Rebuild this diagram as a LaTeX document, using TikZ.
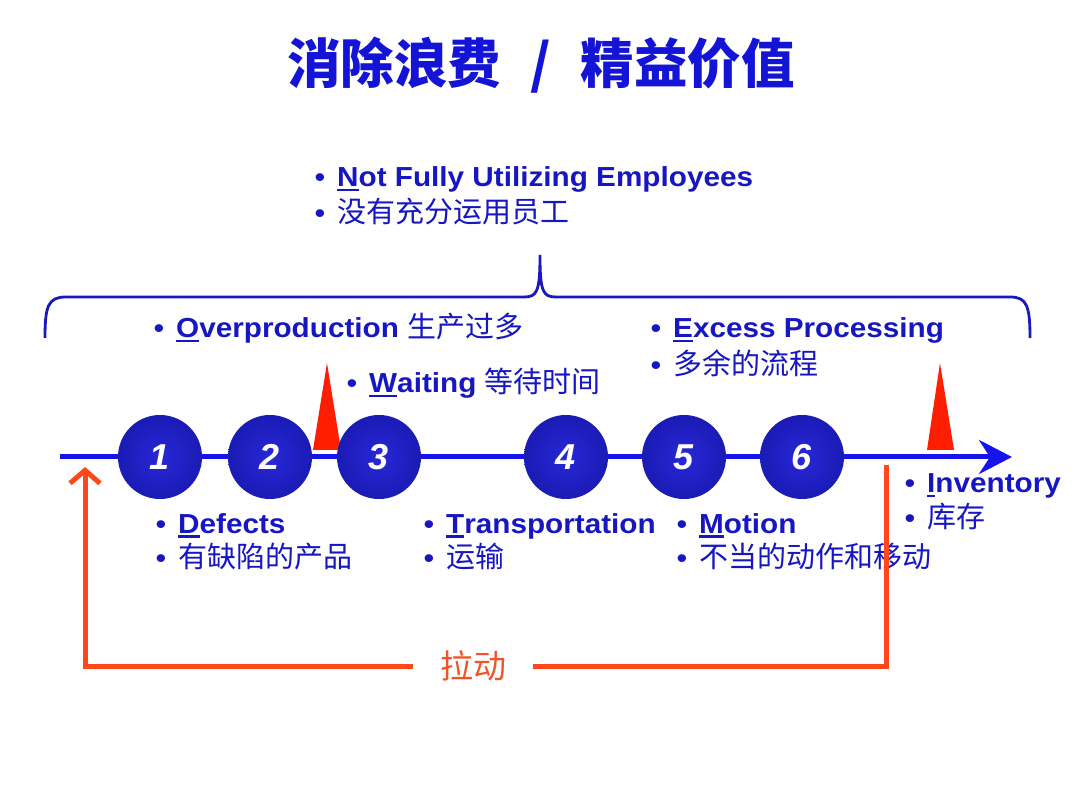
\documentclass[tikz,border=0pt]{standalone}
\usepackage{fontspec}
\setmainfont{Liberation Sans}
\newfontfamily\engb[FakeStretch=1.08]{Liberation Sans}
\newfontfamily\cjk{Noto Sans CJK SC}
\usetikzlibrary{arrows.meta,shapes.geometric}
\definecolor{txtblue}{RGB}{22,22,195}
\definecolor{ttlblue}{RGB}{20,20,215}
\definecolor{lineblue}{RGB}{20,20,235}
\definecolor{braceblue}{RGB}{25,25,190}
\definecolor{trired}{RGB}{255,30,0}
\definecolor{pullred}{RGB}{255,72,25}
\definecolor{pulltxt}{RGB}{240,85,40}
\definecolor{ballin}{RGB}{40,40,215}
\definecolor{ballmid}{RGB}{26,26,180}
\definecolor{ballrim}{RGB}{10,10,125}
\definecolor{ballout}{RGB}{4,4,95}
\pgfdeclareradialshading{myball}{\pgfpoint{0bp}{0bp}}{color(0bp)=(ballin); color(26bp)=(ballmid); color(43bp)=(ballrim); color(50bp)=(ballout)}
\newcommand\bul{\makebox[0pt][r]{{\engb\bfseries\fontsize{27}{28}\selectfont\textbullet}\hspace{12pt}}}
\newcommand\ulx[1]{{\setbox0\hbox{#1}\rlap{\rule[-4.5pt]{\wd0}{2.2pt}}\box0}}
\tikzset{
  lbl/.style={anchor=base west, inner sep=0pt, text=txtblue},
  en/.style={lbl, font=\engb\bfseries\fontsize{27.5}{30}\selectfont},
  cn/.style={lbl, font=\cjk\fontsize{29}{32}\selectfont},
  ball/.style={circle, minimum size=84pt, inner sep=0pt, shading=myball, text=white,
    font=\bfseries\itshape\fontsize{36}{38}\selectfont},
  tri/.style={fill=trired, draw=none},
  pull/.style={draw=pullred, line width=5pt},
}
\begin{document}
\begin{tikzpicture}[x=1pt,y=-1pt]
\useasboundingbox (0,0) rectangle (1080,810);
\fill[white] (0,0) rectangle (1080,810);
% title
\node[inner sep=0pt, text=ttlblue, font=\cjk\bfseries\fontsize{53.5}{56}\selectfont] (title) at (541,65) {消除浪费\hspace{0.55em}/\hspace{0.55em}精益价值};
% top texts
\node[en] (nf) at (337,187) {\bul\ulx{N}ot Fully Utilizing Employees};
\node[cn] (nfc) at (337,223) {\bul 没有充分运用员工};
% brace
\draw[braceblue, line width=2.8pt] (45,338) .. controls (45,306) and (48,297) .. (66,297) -- (524,297)
  .. controls (537,297) and (540,292) .. (540,255)
  .. controls (540,292) and (543,297) .. (556,297) -- (1010,297)
  .. controls (1027,297) and (1030,306) .. (1030,338);
\node[en] (op) at (176,338) {\bul\ulx{O}verproduction {\cjk\mdseries\fontsize{29}{32}\selectfont 生产过多}};
\node[en] (ep) at (673,338) {\bul\ulx{E}xcess Processing};
\node[cn] (epc) at (673,375) {\bul 多余的流程};
\node[en] (wt) at (369,393) {\bul\ulx{W}aiting {\cjk\mdseries\fontsize{29}{32}\selectfont 等待时间}};
% main line
\coordinate (L0) at (60,457);
\coordinate (L1) at (1012,457);
\draw[lineblue, line width=5pt, -{Stealth[length=33pt,width=34pt,inset=11pt]}] (L0) -- (L1);
% triangles
\fill[tri] (313,450) -- (327,363) -- (341,450) -- cycle;
\fill[tri] (927,450) -- (940,363) -- (954,450) -- cycle;
% balls
\node[ball] (c1) at (160,457) {1};
\node[ball] (c2) at (270,457) {2};
\node[ball] (c3) at (379,457) {3};
\node[ball] (c4) at (566,457) {4};
\node[ball] (c5) at (684,457) {5};
\node[ball] (c6) at (802,457) {6};
% bottom texts
\node[en] (df) at (178,533) {\bul\ulx{D}efects};
\node[cn] (dfc) at (178,567) {\bul 有缺陷的产品};
\node[en] (tr) at (446,533) {\bul\ulx{T}ransportation};
\node[cn] (trc) at (446,567) {\bul 运输};
\node[en] (mo) at (699,533) {\bul\ulx{M}otion};
\node[cn] (moc) at (699,567) {\bul 不当的动作和移动};
\node[en] (inv) at (927,493) {\bul\ulx{I}nventory};
\node[cn] (invc) at (927,527) {\bul 库存};
% pull loop
\coordinate (rtop) at (886,465);
\coordinate (ltip) at (85,467);
\node[inner sep=0pt, inner xsep=27pt, minimum height=36pt, text=pulltxt, font=\cjk\fontsize{33}{36}\selectfont] (pl) at (473,666) {拉动};
\draw[pull] (rtop) |- (pl.east);
\draw[pull, -{Straight Barb[length=13pt,width=30pt]}] (pl.west) -| (ltip);
\end{tikzpicture}
\end{document}
